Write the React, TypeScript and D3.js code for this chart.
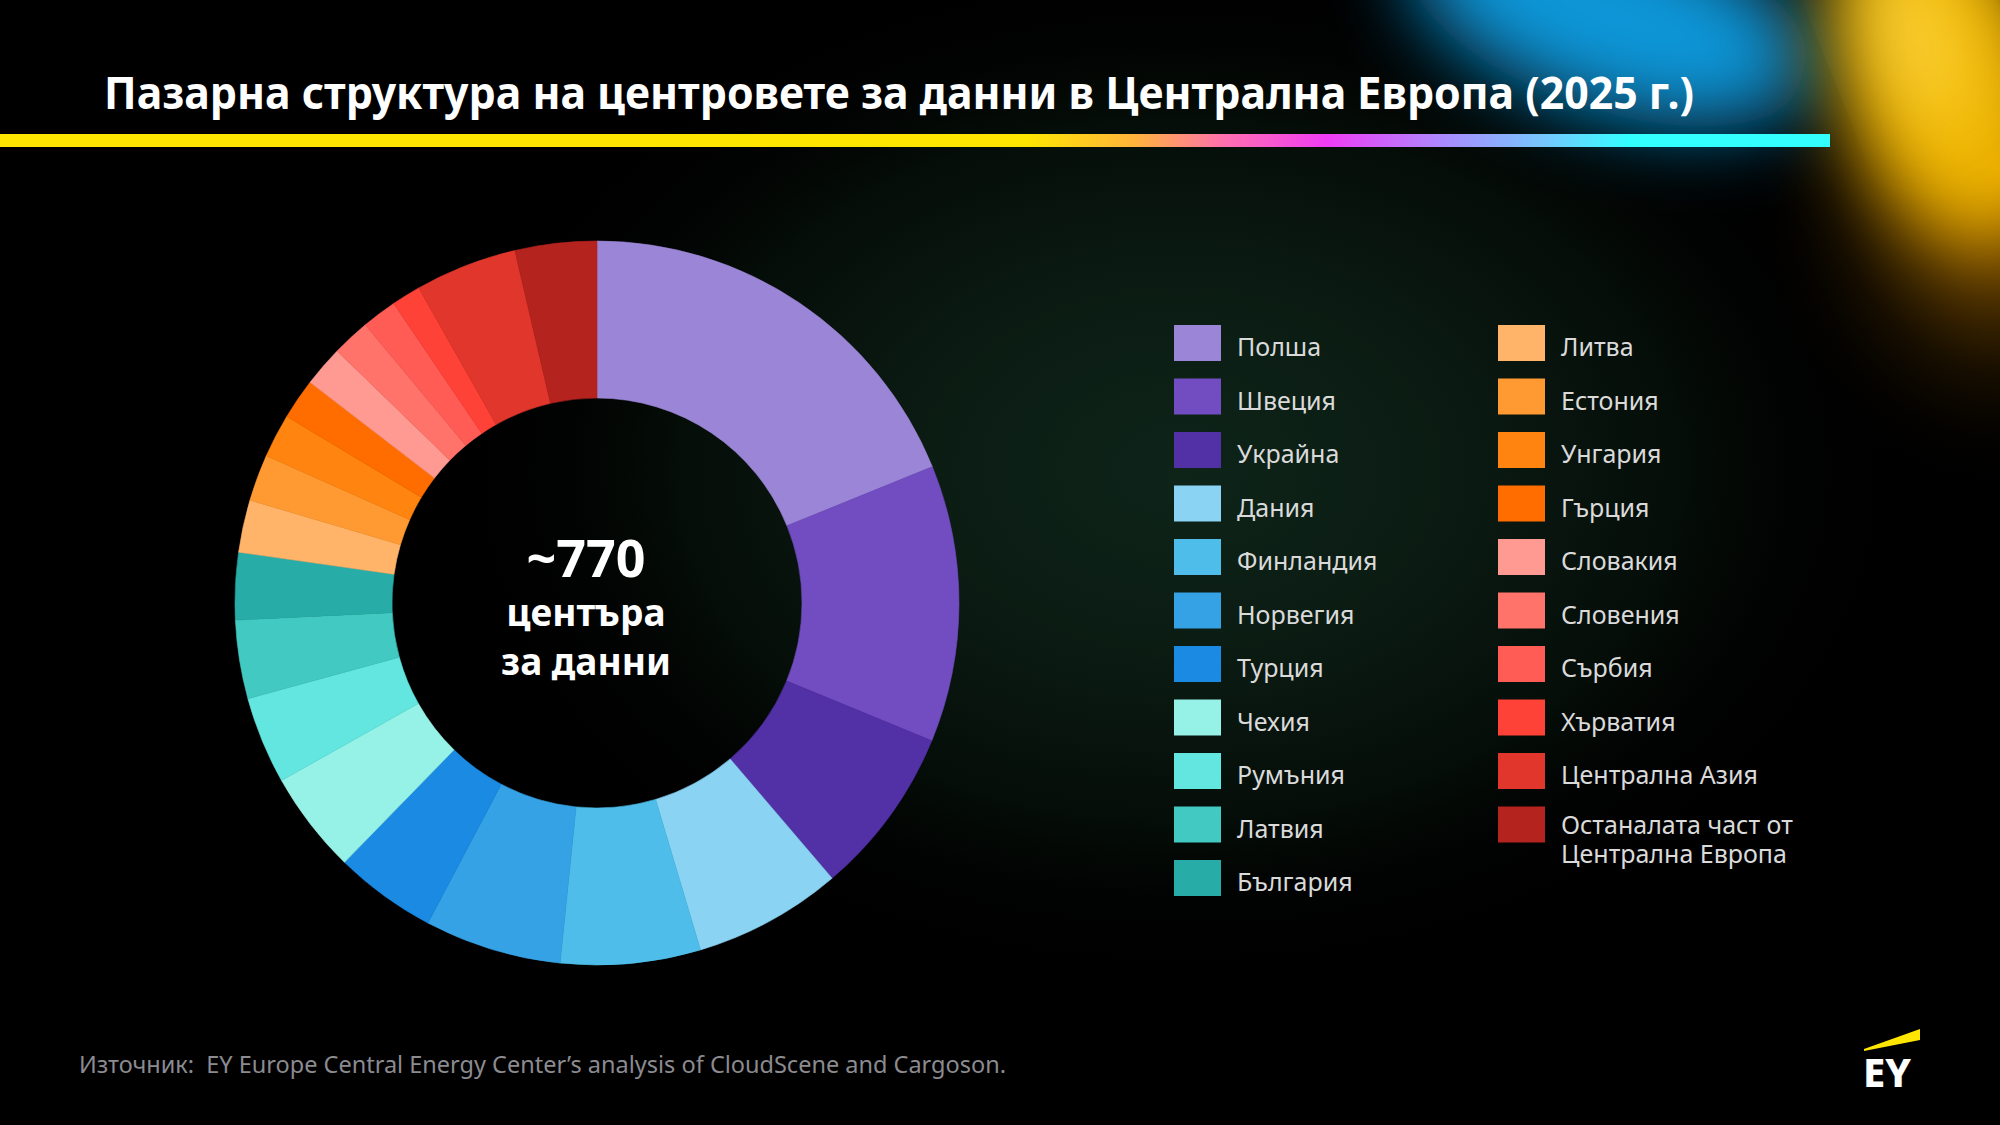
import React from 'react';
import * as d3 from 'd3';

// --- data: data centres per market, ~770 in total ---
const countries = [
  'Полша', 'Швеция', 'Украйна', 'Дания', 'Финландия', 'Норвегия', 'Турция',
  'Чехия', 'Румъния', 'Латвия', 'България', 'Литва', 'Естония', 'Унгария',
  'Гърция', 'Словакия', 'Словения', 'Сърбия', 'Хърватия', 'Централна Азия',
  'Останалата част от Централна Европа',
];
const centres = [145, 95, 58, 51, 48, 47, 35, 35, 30, 27, 23, 18, 16, 15, 14, 14, 13, 12, 10, 35, 28];
const palette = [
  '#9b85d6', '#724dc1', '#5230a6', '#8ad3f3', '#4ebde9', '#35a2e6', '#1a8ae3',
  '#96f2e6', '#62e6df', '#42c9c1', '#27aca7', '#ffb46a', '#ff9a33', '#ff8510',
  '#ff6d00', '#ff9a92', '#ff736a', '#ff5c55', '#ff4237', '#e0362c', '#b5231f',
];
// legend wraps these labels onto two lines
const legendLines: Record<string, string[]> = {
  'Останалата част от Централна Европа': ['Останалата част от', 'Централна Европа'],
};

const title = 'Пазарна структура на центровете за данни в Централна Европа (2025 г.)';
const totalLabel = '~770';
const centreLines = ['центъра', 'за данни'];
const source = 'Източник:  EY Europe Central Energy Center’s analysis of CloudScene and Cargoson.';

const W = 2000;
const H = 1125;
const cx = 597;
const cy = 603;
const rOuter = 362;
const rInner = 205;

type Row = { name: string; value: number; color: string };

export default function App() {
  const rows: Row[] = countries.map((name, i) => ({ name, value: centres[i], color: palette[i] }));

  const pie = d3.pie<Row>().sort(null).value(d => d.value);
  const arc = d3.arc<d3.PieArcDatum<Row>>().innerRadius(rInner).outerRadius(rOuter);
  const slices = pie(rows);

  // legend: two columns, 11 + 10 rows
  const perCol = 11;
  const rowY = d3.scaleLinear().domain([0, 1]).range([325, 378.5]);
  const colX = [1174, 1498];

  return (
    <svg width={W} height={H} viewBox={`0 0 ${W} ${H}`}
      style={{ position: 'fixed', left: 0, top: 0, background: '#000' }}>
      <defs>
        <filter id="soft" x="-100%" y="-100%" width="300%" height="300%">
          <feGaussianBlur stdDeviation="40" />
        </filter>
        <radialGradient id="haze" cx="1180" cy="470" r="720" gradientUnits="userSpaceOnUse"
          gradientTransform="translate(1180 470) scale(1 0.7) translate(-1180 -470)">
          <stop offset="0" stopColor="#0e2419" />
          <stop offset="0.35" stopColor="#0b1c13" />
          <stop offset="0.7" stopColor="#050d08" />
          <stop offset="1" stopColor="#000" stopOpacity={0} />
        </radialGradient>
        <radialGradient id="amber" cx="2000" cy="170" r="320" gradientUnits="userSpaceOnUse"
          gradientTransform="translate(2000 170) scale(0.8 1) translate(-2000 -170)">
          <stop offset="0" stopColor="#d08c00" stopOpacity={1} />
          <stop offset="0.3" stopColor="#8c5800" stopOpacity={0.75} />
          <stop offset="0.65" stopColor="#2e1c00" stopOpacity={0.45} />
          <stop offset="1" stopColor="#000" stopOpacity={0} />
        </radialGradient>
        <linearGradient id="rule" x1="0" x2="1830" y1="0" y2="0" gradientUnits="userSpaceOnUse">
          <stop offset="0" stopColor="#ffe600" />
          <stop offset="0.56" stopColor="#ffe600" />
          <stop offset="0.62" stopColor="#ffb43c" />
          <stop offset="0.67" stopColor="#ff6fb0" />
          <stop offset="0.725" stopColor="#f03cf5" />
          <stop offset="0.79" stopColor="#a98cff" />
          <stop offset="0.845" stopColor="#74c8ff" />
          <stop offset="0.89" stopColor="#33ffff" />
          <stop offset="1" stopColor="#33ffff" />
        </linearGradient>
      </defs>

      {/* backdrop glows */}
      <rect x={0} y={0} width={W} height={H} fill="#000" />
      <rect x={0} y={0} width={W} height={H} fill="url(#haze)" />
      <rect x={1600} y={0} width={400} height={520} fill="url(#amber)" />
      <ellipse cx={1610} cy={15} rx={210} ry={95} fill="#0896d8" transform="rotate(18 1610 15)" filter="url(#soft)" />
      <ellipse cx={1940} cy={60} rx={100} ry={175} fill="#f2b800" transform="rotate(-15 1940 60)" filter="url(#soft)" />
      <ellipse cx={1915} cy={40} rx={30} ry={90} fill="#ffe060" opacity={0.8} transform="rotate(-22 1915 40)" filter="url(#soft)" />

      {/* heading */}
      <text x={104} y={109} fill="#fff" fontFamily="'Noto Sans', sans-serif" fontWeight={700}
        fontSize={45} textLength={1590} lengthAdjust="spacingAndGlyphs">{title}</text>
      <rect x={0} y={134} width={1830} height={13} fill="url(#rule)" />

      {/* donut */}
      <g transform={`translate(${cx},${cy})`}>
        {slices.map(s => (
          <path key={s.data.name} d={arc(s) ?? ''} fill={s.data.color} stroke={s.data.color} strokeWidth={0.6} />
        ))}
      </g>
      <g fontFamily="'Noto Sans', sans-serif" fontWeight={700} fill="#fff" textAnchor="middle">
        <text x={586} y={577} fontSize={52}>{totalLabel}</text>
        {centreLines.map((t, i) => (
          <text key={t} x={586} y={626 + i * 49} fontSize={37}>{t}</text>
        ))}
      </g>

      {/* legend */}
      <g fontFamily="'Noto Sans', sans-serif" fontSize={25} fill="#dadada">
        {rows.map((d, i) => {
          const col = Math.floor(i / perCol);
          const r = i % perCol;
          const x = colX[col];
          const y = rowY(r);
          const lines = legendLines[d.name] ?? [d.name];
          const base = lines.length > 1 ? y + 27 : y + 31;
          return (
            <g key={d.name}>
              <rect x={x} y={y} width={47} height={36} fill={d.color} />
              <text x={x + 63} y={base}>
                {lines.map((t, k) => (
                  <tspan key={t} x={x + 63} dy={k === 0 ? 0 : 29}>{t}</tspan>
                ))}
              </text>
            </g>
          );
        })}
      </g>

      {/* source note */}
      <text x={79} y={1073} fill="#8b8b90" fontFamily="'Noto Sans', sans-serif" fontSize={23}
        textLength={927} lengthAdjust="spacingAndGlyphs" style={{ whiteSpace: 'pre' }}>{source}</text>

      {/* EY mark */}
      <polygon points="1864,1049 1920,1029 1920,1040 1864,1051" fill="#ffe600" />
      <text x={1863} y={1087} fill="#fff" fontFamily="'Noto Sans', sans-serif" fontWeight={800}
        fontSize={39} textLength={48} lengthAdjust="spacingAndGlyphs">EY</text>
    </svg>
  );
}
